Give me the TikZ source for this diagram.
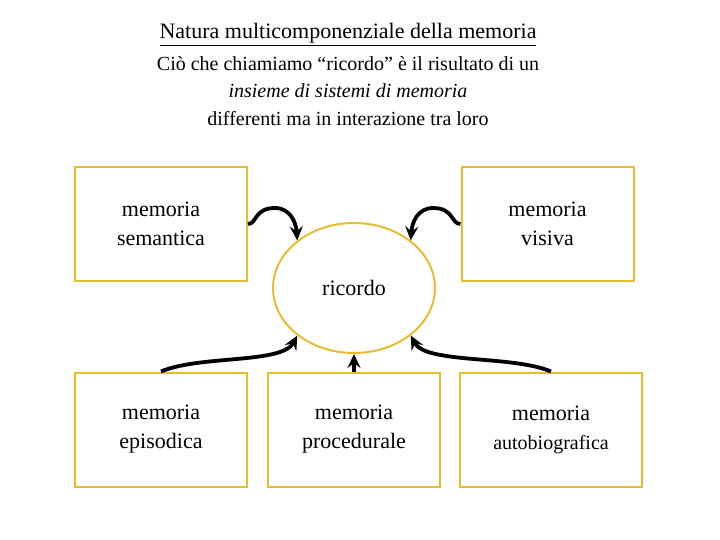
\documentclass[tikz,border=0pt]{standalone}
\usepackage{fontspec}
\setmainfont{Liberation Serif}
\usetikzlibrary{arrows.meta,shapes.geometric}
\definecolor{boxyellow}{RGB}{232,188,48}
\tikzset{
  membox/.style={draw=boxyellow,line width=2pt,rectangle,minimum width=172pt,minimum height=114pt,align=center,font=\fontsize{22}{29}\selectfont,inner sep=0pt},
  conn/.style={line width=3.8pt,-{Stealth[length=14pt,width=13pt,inset=5pt]}},
  headline/.style={font=\fontsize{20}{22}\selectfont,anchor=base}
}
\begin{document}
\begin{tikzpicture}[x=1pt,y=-1pt]
\useasboundingbox (0,0) rectangle (720,540);
\node[font=\fontsize{22}{24}\selectfont,anchor=base] (title) at (348,39) {\underline{Natura multicomponenziale della memoria}};
\node[headline] (l2) at (348,71) {Ciò che chiamiamo “ricordo” è il risultato di un};
\node[headline,font=\fontsize{20}{22}\selectfont\itshape] (l3) at (348,98) {insieme di sistemi di memoria};
\node[headline] (l4) at (348,126) {differenti ma in interazione tra loro};

\node[membox] (sem) at (161,224) {memoria\\semantica};
\node[membox] (vis) at (547.5,224) {memoria\\visiva};
\node[membox] (epi) at (161,429.5) {memoria\\episodica};
\node[membox] (pro) at (354,429.5) {memoria\\procedurale};
\node[membox,minimum width=182pt] (auto) at (551,429.5) {memoria\\{\fontsize{20}{29}\selectfont autobiografica}};

\node[draw=boxyellow,line width=2pt,ellipse,minimum width=162pt,minimum height=130pt,inner sep=0pt,font=\fontsize{22}{26}\selectfont] (ric) at (354,288) {ricordo};

\draw[conn] (sem.east) .. controls (257,224) and (254,208) .. (275,208) .. controls (290,208) and (296,222) .. (ric.140);
\draw[conn] (vis.west) .. controls (451,224) and (454,208) .. (433,208) .. controls (418,208) and (412,222) .. (ric.40);
\draw[conn] (epi.north) .. controls (200,355) and (282,364) .. (ric.220);
\draw[conn] (auto.north) .. controls (512,355) and (426,364) .. (ric.320);
\draw[conn] (pro.north) -- (ric.south);
\end{tikzpicture}
\end{document}
